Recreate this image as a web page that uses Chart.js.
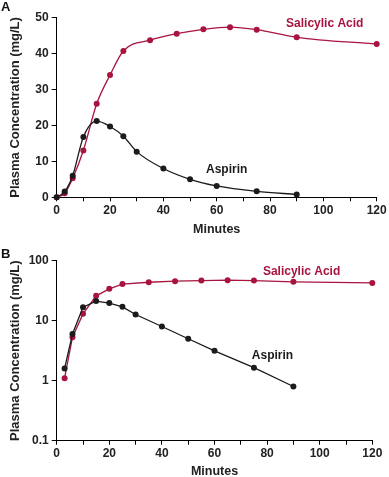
<!DOCTYPE html>
<html>
<head>
<meta charset="utf-8">
<script src="https://cdn.jsdelivr.net/npm/chart.js@4.4.1/dist/chart.umd.min.js"></script>
<style>
  html,body{margin:0;padding:0;background:#fff;}
  body{width:389px;height:477px;position:relative;overflow:hidden;font-family:"Liberation Sans",Arial,Helvetica,sans-serif;}
  .wrap{position:absolute;left:0;width:389px;}
  .panel{position:absolute;left:1px;font-weight:bold;font-size:13px;color:#111;}
</style>
</head>
<body>
<div class="wrap" style="top:0;height:238px;"><canvas id="cA" width="389" height="238"></canvas></div>
<div class="wrap" style="top:240px;height:240px;"><canvas id="cB" width="389" height="240"></canvas></div>
<div class="panel" style="top:-1px;">A</div>
<div class="panel" style="top:246px;">B</div>
<script>
// ---- data ----
const aspirinMinutes = [0, 3, 6, 10, 15, 20, 25, 30, 40, 50, 60, 75, 90];
const aspirinConc    = [0, 1.6, 6, 16.8, 21.2, 19.7, 17, 12.7, 8, 5, 3.15, 1.65, 0.8];
const salicylicMinutes = [0, 3, 6, 10, 15, 20, 25, 35, 45, 55, 65, 75, 90, 120];
const salicylicConc    = [0, 1.1, 5.3, 13, 26, 34, 40.7, 43.7, 45.5, 46.7, 47.3, 46.6, 44.5, 42.6];
const linearYTicks = [0, 10, 20, 30, 40, 50];
const logYTicks = [0.1, 1, 10, 100];
const seriesNames = ['Aspirin', 'Salicylic Acid'];

const RED = '#a8143f';
const BLK = '#1b1b1b';
const FONT = '"Liberation Sans", Arial, Helvetica, sans-serif';

function pts(xs, ys, log) {
  return xs.map((x, i) => ({x: x, y: (log && ys[i] <= 0) ? null : ys[i]}));
}

function labelPlugin(labels) {
  return {
    id: 'seriesLabels',
    afterDatasetsDraw(chart) {
      const ctx = chart.ctx;
      const xs = chart.scales.x, ys = chart.scales.y;
      ctx.save();
      ctx.font = 'bold 12px ' + FONT;
      ctx.textBaseline = 'middle';
      ctx.textAlign = 'left';
      labels.forEach(l => {
        ctx.fillStyle = l.color;
        ctx.fillText(l.text, xs.getPixelForValue(l.x), ys.getPixelForValue(l.y));
      });
      ctx.restore();
    }
  };
}

function makeChart(id, log, cfg) {
  const smooth = !log;
  const ds = [
    {label: seriesNames[0], data: pts(aspirinMinutes, aspirinConc, log), borderColor: BLK, backgroundColor: BLK,
     pointBorderColor: BLK, pointBackgroundColor: BLK},
    {label: seriesNames[1], data: pts(salicylicMinutes, salicylicConc, log), borderColor: RED, backgroundColor: RED,
     pointBorderColor: RED, pointBackgroundColor: RED}
  ].map(d => Object.assign(d, {
    borderWidth: 1.3, pointRadius: 3, pointBorderWidth: 0, pointHoverRadius: 3,
    cubicInterpolationMode: smooth ? 'monotone' : 'default', tension: 0, spanGaps: false, clip: false
  }));

  const yScale = log ? {
    type: 'logarithmic', min: 0.1, max: 100,
    afterBuildTicks: s => { s.ticks = logYTicks.map(v => ({value: v})); },
    ticks: {callback: v => String(v), color: '#222', font: {family: FONT, size: 12, weight: 'bold'}, padding: 3}
  } : {
    type: 'linear', min: 0, max: 50,
    afterBuildTicks: s => { s.ticks = linearYTicks.map(v => ({value: v})); },
    ticks: {color: '#222', font: {family: FONT, size: 12, weight: 'bold'}, padding: 3}
  };
  Object.assign(yScale, {
    grid: {display: true, drawOnChartArea: false, drawTicks: true, tickLength: 5, color: '#000', lineWidth: 1},
    border: {display: true, color: '#000', width: 1},
    title: {display: true, text: 'Plasma Concentration (mg/L)', color: '#222',
            font: {family: FONT, size: 13, weight: 'bold'}, padding: {top: cfg.yTitlePad, bottom: 0}},
    afterFit: s => { s.width = cfg.yWidth; }
  });

  const xScale = {
    type: 'linear', min: 0, max: 120,
    ticks: {stepSize: 10, autoSkip: false, maxRotation: 0, color: '#222', padding: 2,
            font: {family: FONT, size: 12, weight: 'bold'},
            callback: v => (v % 20 === 0 ? String(v) : '')},
    grid: {display: true, drawOnChartArea: false, drawTicks: true, tickLength: 4, color: '#000', lineWidth: 1},
    border: {display: true, color: '#000', width: 1},
    title: {display: true, text: 'Minutes', color: '#222',
            font: {family: FONT, size: 12.5, weight: 'bold', lineHeight: 1.0}, padding: {top: 0, bottom: cfg.xTitlePad}},
    afterFit: s => { s.height = cfg.xHeight; }
  };

  return new Chart(document.getElementById(id), {
    type: 'line',
    data: {datasets: ds},
    options: {
      responsive: false, animation: false, devicePixelRatio: 1,
      layout: {padding: {left: 0, right: cfg.right, top: cfg.top, bottom: 0}},
      plugins: {legend: {display: false}, tooltip: {enabled: false}, title: {display: false}},
      scales: {x: xScale, y: yScale}
    },
    plugins: [labelPlugin(cfg.labels)]
  });
}

makeChart('cA', false, {
  yWidth: 56.7, xHeight: 40.7, right: 12.3, top: 17.5, yTitlePad: 8, xTitlePad: 2.5,
  labels: [
    {text: seriesNames[1], x: 86, y: 48.3, color: RED},
    {text: seriesNames[0], x: 56, y: 7.6, color: BLK}
  ]
});
makeChart('cB', true, {
  yWidth: 56.7, xHeight: 39.3, right: 16.7, top: 20.7, yTitlePad: 8, xTitlePad: 2,
  labels: [
    {text: seriesNames[1], x: 78.4, y: 65.6, color: RED},
    {text: seriesNames[0], x: 74.2, y: 2.58, color: BLK}
  ]
});
</script>
</body>
</html>
